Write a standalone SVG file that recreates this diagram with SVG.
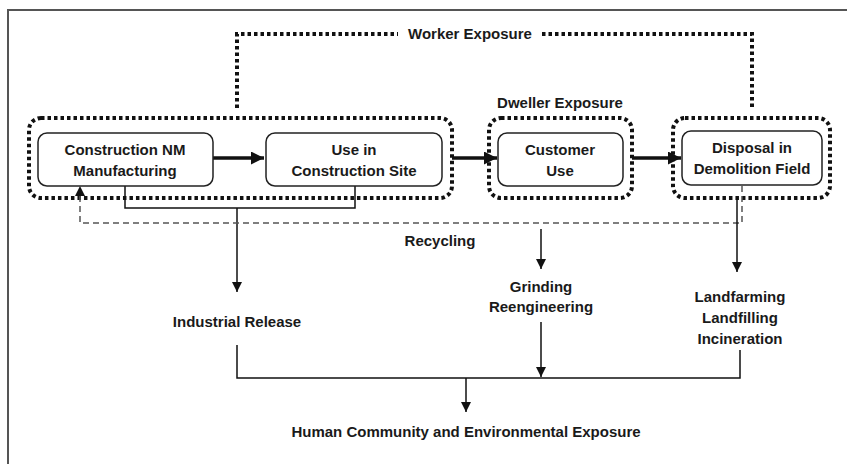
<svg xmlns="http://www.w3.org/2000/svg" width="847" height="464" viewBox="0 0 847 464">
<defs>
<style>
.t{font-family:"Liberation Sans",Arial,sans-serif;font-weight:bold;font-size:15px;fill:#1a1a1a;text-anchor:middle}
.box{fill:#fff;stroke:#222;stroke-width:1.5}
.dot{fill:none;stroke:#111;stroke-width:4;stroke-dasharray:3.5 3}
.ln{fill:none;stroke:#111;stroke-width:1.5}
.thick{fill:none;stroke:#111;stroke-width:3.5}
.dash{fill:none;stroke:#555;stroke-width:1.5;stroke-dasharray:6 4}
</style>
<marker id="as" viewBox="0 0 10 10" refX="10" refY="5" markerWidth="10" markerHeight="12" markerUnits="userSpaceOnUse" orient="auto"><path d="M0,0 L10,5 L0,10 z" fill="#111"/></marker>
<marker id="ab" viewBox="0 0 10 10" refX="10" refY="5" markerWidth="15" markerHeight="13" markerUnits="userSpaceOnUse" orient="auto"><path d="M0,0 L10,5 L0,10 z" fill="#111"/></marker>
</defs>
<rect width="847" height="464" fill="#fff"/>
<path d="M8,464 V10 H847" fill="none" stroke="#555" stroke-width="2"/>

<g id="worker-exposure">
<path class="dot" d="M237,108 V34 H398 M542,34 H752 V108"/>
<text class="t" x="470" y="39">Worker Exposure</text>
</g>

<g id="group-construction">
<rect class="dot" x="29" y="118" width="423" height="80" rx="12"/>
</g>
<g id="group-dweller">
<rect class="dot" x="489" y="118" width="143" height="80" rx="12"/>
<text class="t" x="560" y="108">Dweller Exposure</text>
</g>
<g id="group-disposal">
<rect class="dot" x="673" y="118" width="157" height="80" rx="12"/>
</g>

<g id="connectors">
<path class="thick" d="M213,158 H264" marker-end="url(#ab)"/>
<path class="thick" d="M452,158 H497" marker-end="url(#ab)"/>
<path class="thick" d="M632,158 H681" marker-end="url(#ab)"/>
<path class="ln" d="M125,186 V208 H355 V186"/>
<path class="ln" d="M237,208 V292" marker-end="url(#as)"/>
<path class="dash" d="M742,186 V223 H80 V190"/>
<path d="M75,196 L80,186 L85,196 z" fill="#111"/>
<path class="ln" d="M541,229 V269" marker-end="url(#as)"/>
<path class="ln" d="M737,198 V272" marker-end="url(#as)"/>
<path class="ln" d="M237,345 V378 H740 V350"/>
<path class="ln" d="M541,322 V377" marker-end="url(#as)"/>
<path class="ln" d="M466,378 V412" marker-end="url(#as)"/>
</g>

<g id="node-manufacturing">
<rect class="box" x="38" y="133" width="175" height="53" rx="9"/>
<text class="t" x="125" y="155">Construction NM</text>
<text class="t" x="125" y="176">Manufacturing</text>
</g>
<g id="node-construction-site">
<rect class="box" x="266" y="133" width="176" height="53" rx="9"/>
<text class="t" x="354" y="155">Use in</text>
<text class="t" x="354" y="176">Construction Site</text>
</g>
<g id="node-customer-use">
<rect class="box" x="498" y="133" width="125" height="53" rx="9"/>
<text class="t" x="560" y="155">Customer</text>
<text class="t" x="560" y="176">Use</text>
</g>
<g id="node-disposal">
<rect class="box" x="682" y="131" width="140" height="54" rx="9"/>
<text class="t" x="752" y="153">Disposal in</text>
<text class="t" x="752" y="174">Demolition Field</text>
</g>

<g id="label-recycling"><text class="t" x="440" y="246">Recycling</text></g>
<g id="node-industrial"><text class="t" x="237" y="327">Industrial Release</text></g>
<g id="node-grinding">
<text class="t" x="541" y="292">Grinding</text>
<text class="t" x="541" y="312">Reengineering</text>
</g>
<g id="node-landfarming">
<text class="t" x="740" y="302">Landfarming</text>
<text class="t" x="740" y="323">Landfilling</text>
<text class="t" x="740" y="344">Incineration</text>
</g>
<g id="node-human"><text class="t" x="466" y="437">Human Community and Environmental Exposure</text></g>
</svg>
